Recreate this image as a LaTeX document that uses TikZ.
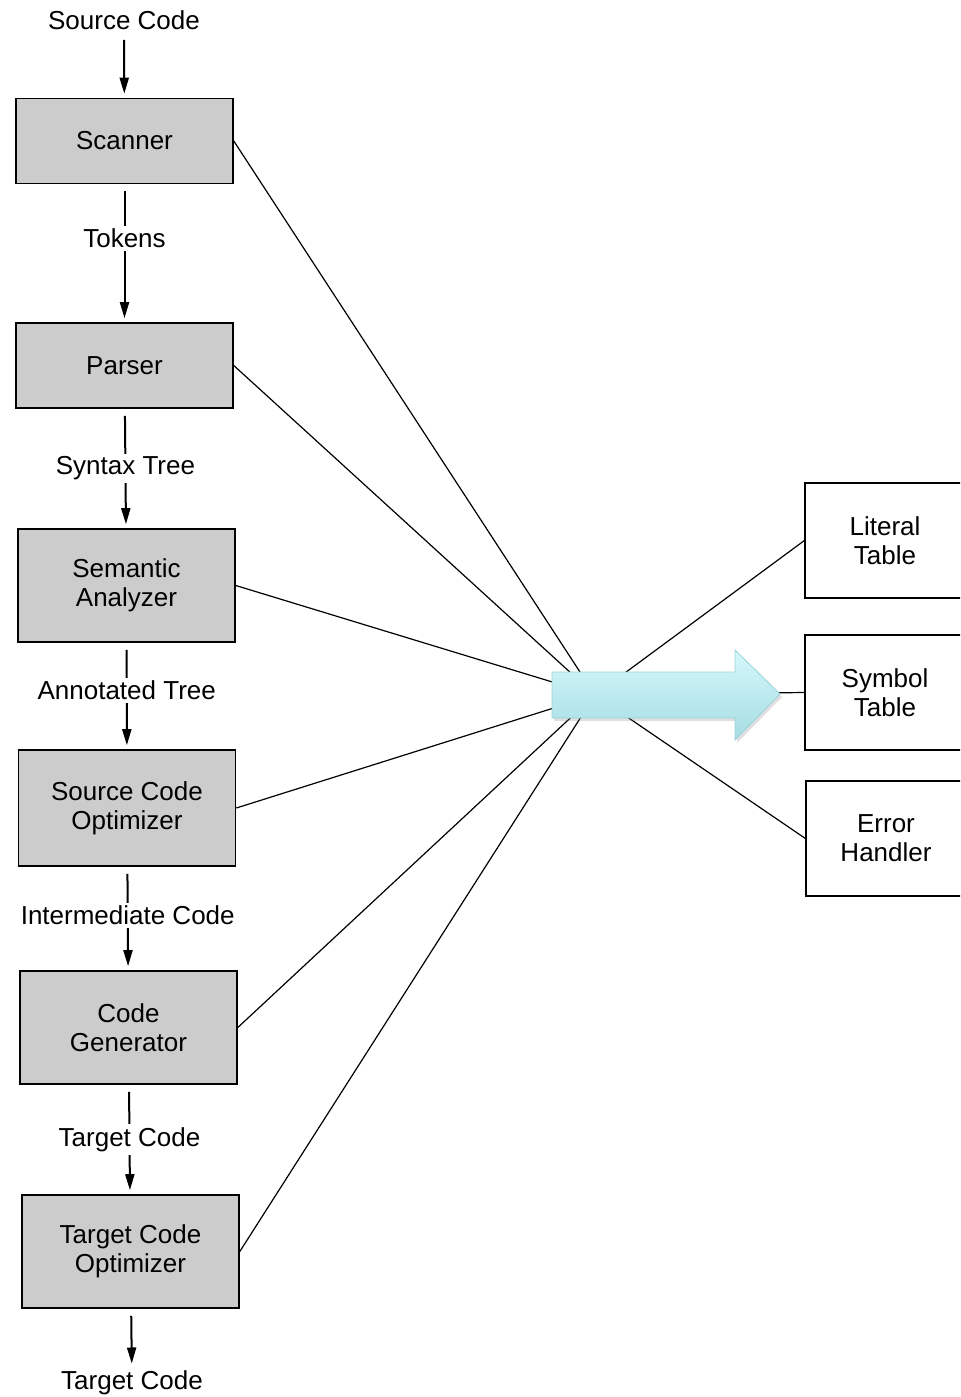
\documentclass[tikz,border=0pt]{standalone}
\usepackage{fontspec}
\setmainfont{Liberation Sans}
\usetikzlibrary{arrows.meta,shadows}
\definecolor{arrowtop}{HTML}{D4F8FB}
\definecolor{arrowbottom}{HTML}{A6DDE3}
\definecolor{arrowedge}{HTML}{9CD2D8}
\tikzset{
    phase-box/.style = {draw=black, fill=gray!40, thick, rectangle, minimum width=108.5pt, minimum height=42.5pt, align=center, inner sep=0pt, font=\fontsize{13}{14.5}\selectfont},
    table-box/.style = {draw=black, fill=white, semithick, rectangle, minimum width=80pt, minimum height=57.5pt, align=center, inner sep=0pt, font=\fontsize{13}{14.5}\selectfont},
    stream-label/.style = {fill=white, inner sep=1.5pt, font=\fontsize{13}{14.5}\selectfont},
    flow/.style = {-{Triangle[length=8pt,width=4.5pt]}, line width=1pt, shorten <=3.5pt, shorten >=2pt},
    link/.style = {line width=0.6pt},
}

\begin{document}
\begin{tikzpicture}[x=0.5pt, y=-0.5pt]
\clip (0,0) rectangle (960,1397);

% compiler phases
\node[stream-label] (src) at (124,20) {Source Code};
\node[phase-box] (scanner) at (124.5,141) {Scanner};
\node[phase-box] (parser) at (124.5,365.5) {Parser};
\node[phase-box, minimum height=56.5pt] (semantic) at (126.5,585.5) {Semantic\\Analyzer};
\node[phase-box, minimum height=58pt] (srcopt) at (127,808) {Source Code\\Optimizer};
\node[phase-box, minimum height=56.5pt] (codegen) at (128.5,1027.5) {Code\\Generator};
\node[phase-box, minimum height=56.5pt] (tgtopt) at (130.5,1251.5) {Target Code\\Optimizer};
\node[stream-label] (tgt) at (132,1383) {Target Code};

\draw[flow] (src) -- (scanner);
\draw[flow] (scanner) -- node[stream-label, pos=0.39] {Tokens} (parser);
\draw[flow] (parser) -- node[stream-label, pos=0.5] {Syntax Tree} (semantic);
\draw[flow] (semantic) -- node[stream-label, pos=0.45] {Annotated Tree} (srcopt);
\draw[flow] (srcopt) -- node[stream-label, pos=0.47] {Intermediate Code} (codegen);
\draw[flow] (codegen) -- node[stream-label, pos=0.5] {Target Code} (tgtopt);
\draw[flow] (tgtopt) -- (tgt);

% shared tables
\node[table-box] (literal) at (885,540.5) {Literal\\Table};
\node[table-box] (symbol) at (885,692.5) {Symbol\\Table};
\node[table-box] (error) at (886,838.5) {Error\\Handler};

\coordinate (hub) at (595,695);
\foreach \n in {scanner,parser,semantic,srcopt,codegen,tgtopt}
    \draw[link] (\n.east) -- (hub);
\foreach \n in {literal,symbol,error}
    \draw[link] (hub) -- (\n.west);

% big arrow
\path[top color=arrowtop, bottom color=arrowbottom, draw=arrowedge, thin,
      drop shadow={opacity=0.25, shadow xshift=1pt, shadow yshift=-1.5pt}]
    (552,672) -- (735,672) -- (735,650) -- (780,694) -- (735,740) -- (735,718) -- (552,718) -- cycle;
\end{tikzpicture}
\end{document}
